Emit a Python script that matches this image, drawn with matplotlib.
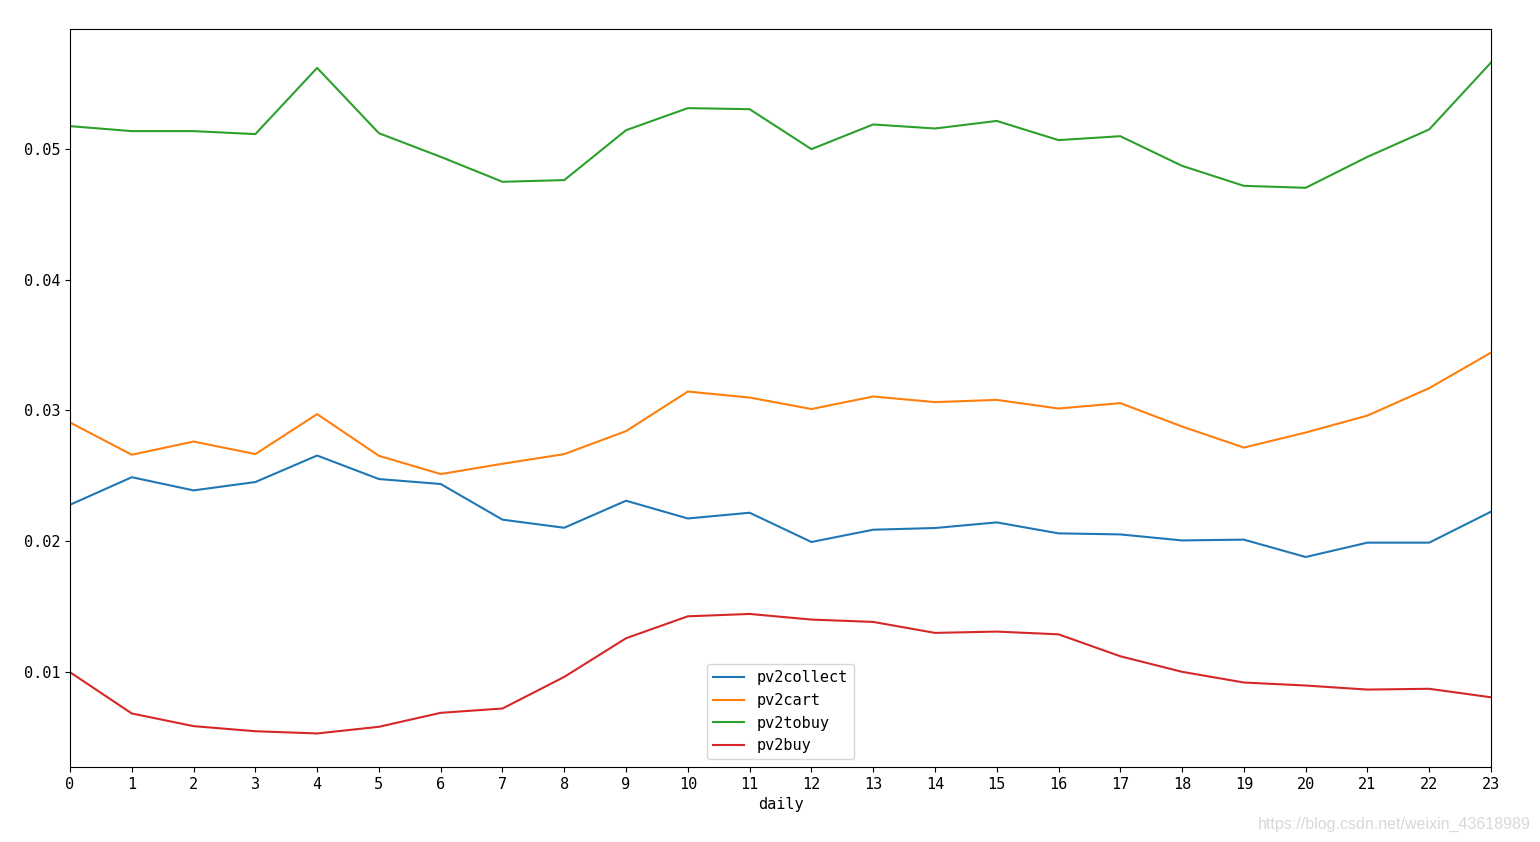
import matplotlib
matplotlib.use("Agg")
import matplotlib.pyplot as plt
import numpy as np
import pandas as pd

plt.rcParams['font.family'] = ['DejaVu Sans Mono', 'DejaVu Sans']
plt.rcParams['font.size'] = 11

hours = list(range(24))

pv2collect = [0.02277, 0.02488, 0.02387, 0.02451, 0.02654, 0.02474, 0.02436, 0.02163,
              0.02101, 0.02308, 0.02172, 0.02216, 0.01992, 0.02086, 0.02099, 0.02142,
              0.02058, 0.02050, 0.02004, 0.02010, 0.01877, 0.01987, 0.01987, 0.02224]
pv2cart = [0.02907, 0.02660, 0.02761, 0.02665, 0.02971, 0.02652, 0.02512, 0.02591,
           0.02665, 0.02841, 0.03144, 0.03098, 0.03010, 0.03106, 0.03063, 0.03080,
           0.03014, 0.03055, 0.02876, 0.02715, 0.02830, 0.02960, 0.03170, 0.03442]
pv2tobuy = [0.05176, 0.05138, 0.05138, 0.05115, 0.05622, 0.05122, 0.04941, 0.04750,
            0.04763, 0.05145, 0.05314, 0.05306, 0.05000, 0.05189, 0.05158, 0.05216,
            0.05069, 0.05099, 0.04872, 0.04719, 0.04704, 0.04941, 0.05151, 0.05663]
pv2buy = [0.00995, 0.00679, 0.00582, 0.00543, 0.00526, 0.00577, 0.00684, 0.00717,
          0.00959, 0.01255, 0.01423, 0.01441, 0.01398, 0.01380, 0.01296, 0.01306,
          0.01285, 0.01117, 0.00998, 0.00916, 0.00893, 0.00862, 0.00868, 0.00803]

# Build the frame like the original rate table
rates = pd.DataFrame({'pv2collect': pv2collect,
                      'pv2cart': pv2cart,
                      'pv2tobuy': pv2tobuy,
                      'pv2buy': pv2buy}, index=pd.Index(hours, name='daily'))

fig = plt.figure(figsize=(15.4, 8.42), dpi=100)
ax = fig.add_axes([70/1540, 75/842, 1421/1540, 738/842])
for col in rates.columns:
    ax.plot(rates.index, rates[col], label=col, lw=1.5)

ax.set_xlim(0, 23)
ax.set_xticks(hours)
ax.set_yticks([0.01, 0.02, 0.03, 0.04, 0.05])
ax.set_xlabel('daily')
ax.legend(loc='lower center')

fig.text(0.994, 0.012, 'https://blog.csdn.net/weixin_43618989', ha='right', va='bottom',
         color='#d8d8d8', fontsize=11.5, family='Liberation Sans')

fig.savefig('out.png', dpi=100)
